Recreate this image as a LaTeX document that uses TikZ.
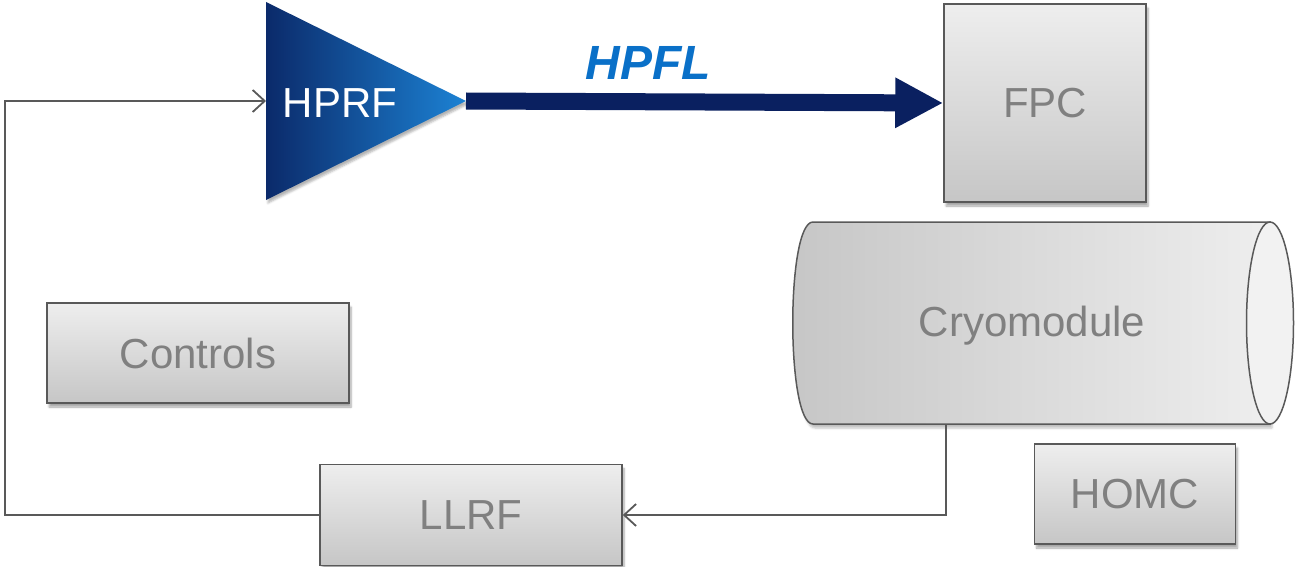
\documentclass[tikz,border=0pt]{standalone}
\usepackage{fontspec}
\setmainfont{Liberation Sans}
\usetikzlibrary{arrows.meta,shadows.blur}

\definecolor{edge}{HTML}{595959}
\definecolor{label}{HTML}{808080}
\definecolor{navy}{HTML}{0A2060}
\definecolor{ampdark}{HTML}{0B2A6A}
\definecolor{amplight}{HTML}{1C82D4}
\definecolor{hpfl}{HTML}{0A70C8}
\definecolor{boxtop}{HTML}{EEEEEE}
\definecolor{boxbot}{HTML}{C6C6C6}

\tikzset{
  unitbox/.style={draw=edge, line width=1.5pt, top color=boxtop, bottom color=boxbot,
    inner sep=0pt, text=label, font=\fontsize{42}{50}\selectfont,
    blur shadow={shadow xshift=2pt, shadow yshift=-4pt, shadow blur steps=6, shadow opacity=35}},
  signal/.style={draw=edge, line width=1.8pt, -{Straight Barb[length=12pt,width=22pt,line width=1.8pt]}},
  power/.style={draw=navy, line width=17pt, -{Triangle[length=48pt,width=47pt]}, shorten >=0pt},
}

\begin{document}
\begin{tikzpicture}[x=1pt, y=-1pt]
  \useasboundingbox (0,0) rectangle (1299,567);

  % amplifier
  \path[left color=ampdark, right color=amplight, blur shadow={shadow xshift=2pt, shadow yshift=-3pt, shadow opacity=30}]
    (266,2) -- (466,101) -- (266,200) -- cycle;
  \node[text=white, font=\fontsize{42}{50}\selectfont] (hprf) at (340,103) {HPRF};
  \coordinate (hprfIn) at (266,101);
  \coordinate (hprfOut) at (466,101);

  % blocks
  \node[unitbox, minimum width=202pt, minimum height=198pt] (fpc) at (1045,103) {FPC};
  \node[unitbox, minimum width=302pt, minimum height=100pt] (controls) at (198,353) {Controls};
  \node[unitbox, minimum width=302pt, minimum height=101pt] (llrf) at (471,515) {LLRF};
  \node[unitbox, minimum width=201pt, minimum height=100pt] (homc) at (1135,494) {HOMC};

  % cryomodule
  \path[blur shadow={shadow xshift=2pt, shadow yshift=-4pt, shadow opacity=25}, left color=boxbot, right color=boxtop, draw=edge, line width=1.5pt]
    (813,222) -- (1270,222) -- (1270,424) -- (813,424)
    .. controls (786,424) and (786,222) .. (813,222) -- cycle;
  \path[fill=white!95!black, draw=edge, line width=1.5pt]
    (1270,323) ellipse [x radius=23.5pt, y radius=101pt];
  \node[text=label, font=\fontsize{42}{50}\selectfont] (cryo) at (1032,326) {Cryomodule};
  \coordinate (cryoOut) at (946,424);

  % power line
  \node[text=hpfl, font=\fontsize{48}{56}\selectfont\bfseries\itshape] (hpflLabel) at (648,63) {HPFL};
  \draw[power] (hprfOut) -- (fpc.west);

  % feedback loop
  \draw[signal] (cryoOut) |- (llrf.east);
  \draw[signal] (llrf.west) -| (5,101) -- (hprfIn);
\end{tikzpicture}
\end{document}
